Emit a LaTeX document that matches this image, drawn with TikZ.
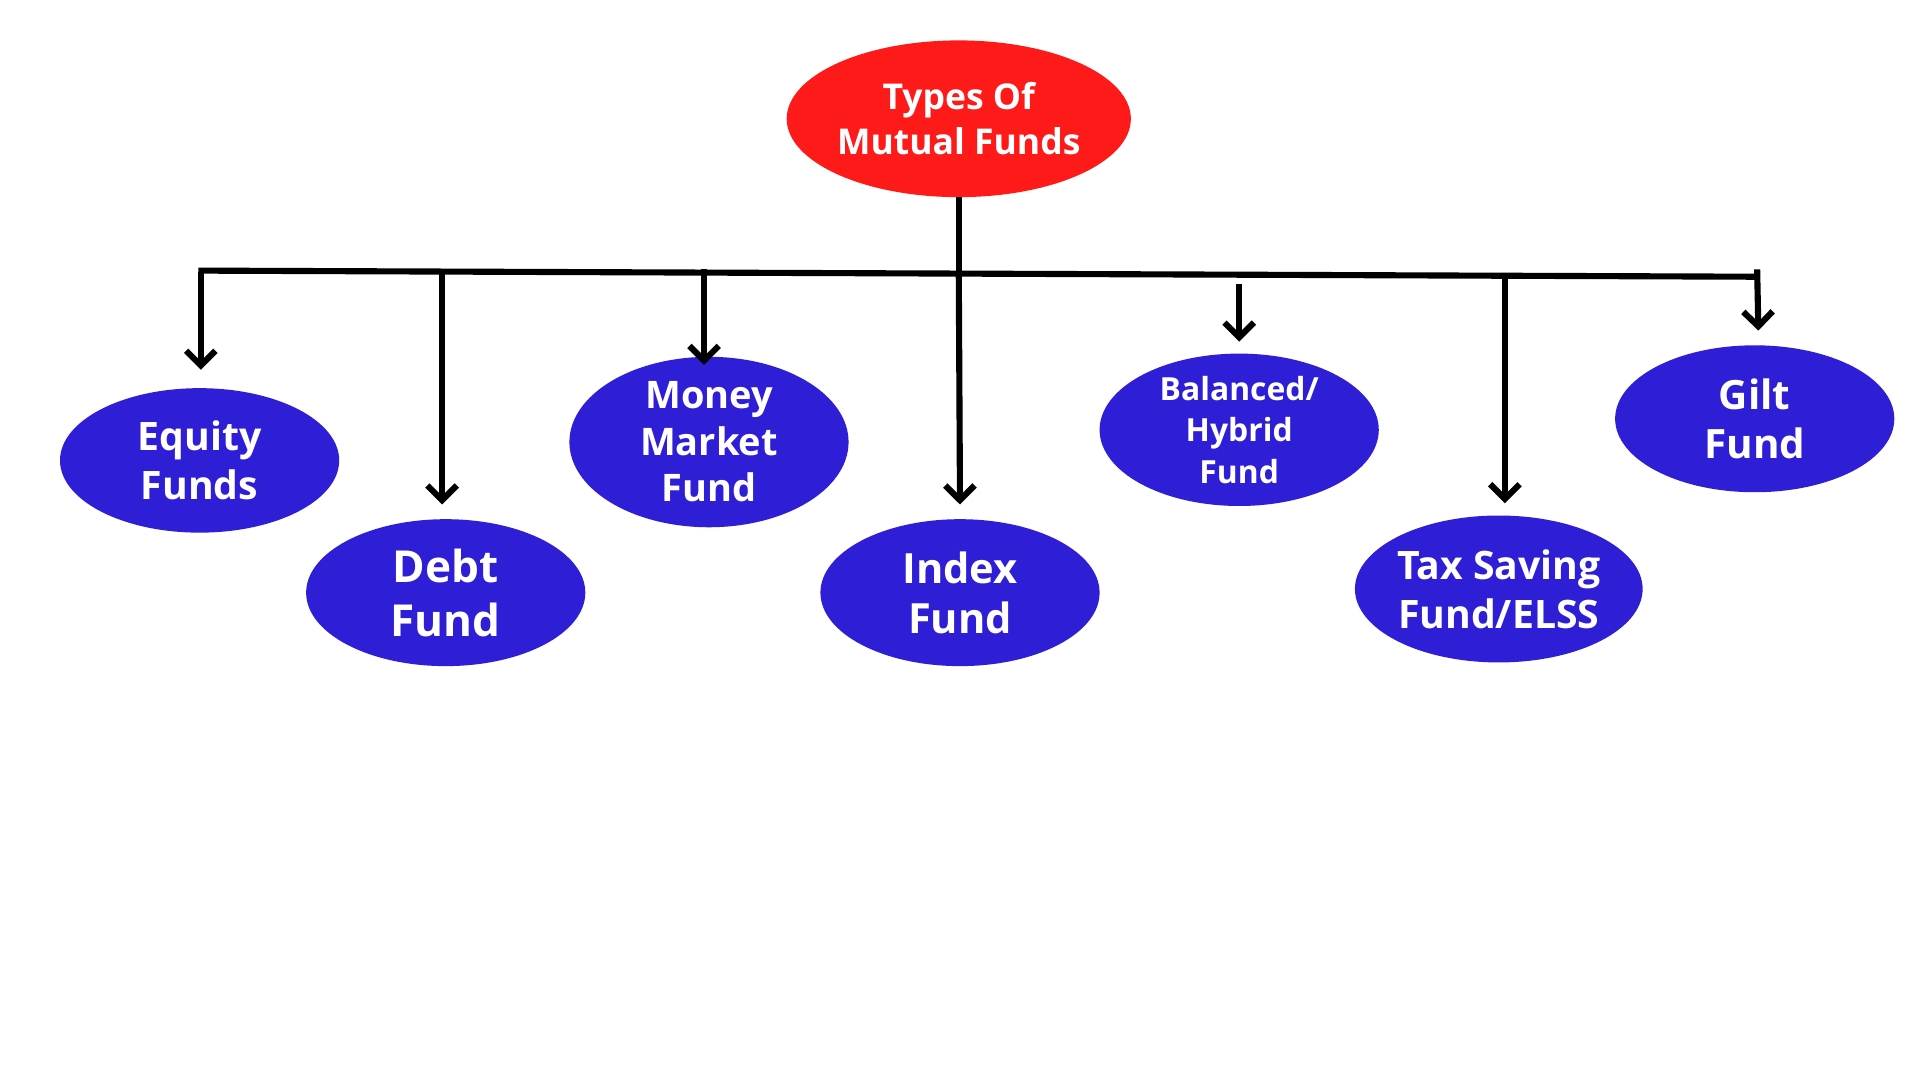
\documentclass[tikz,border=0pt]{standalone}
\usepackage{fontspec}
\setmainfont{Open Sans}
\usetikzlibrary{arrows.meta,shapes.geometric}
\definecolor{blue1}{HTML}{2E1FD6}
\definecolor{red1}{HTML}{FF1A1A}
\begin{document}
\begin{tikzpicture}[x=1pt,y=-1pt,
  fund/.style={ellipse,fill=blue1,minimum width=228pt,minimum height=120pt,inner sep=0pt,text=white,align=center,font=\fontsize{34}{40}\selectfont\bfseries},
  conn/.style={line width=5pt,black},
  arr/.style={conn,-{Straight Barb[length=12pt,width=24pt,line width=5pt]}}]
\fill[white] (0,0) rectangle (1568,882);
\useasboundingbox (0,0) rectangle (1568,882);
\node[fund,fill=red1,minimum height=128pt,font=\fontsize{29}{37}\selectfont\bfseries] (top) at (783,97) {Types Of\\Mutual Funds};
\node[fund,minimum height=118pt,font=\fontsize{32}{40}\selectfont\bfseries] (eq) at (163,376) {Equity\\Funds};
\node[fund,font=\fontsize{36}{44}\selectfont\bfseries] (debt) at (364,484) {Debt\\Fund};
\node[fund,font=\fontsize{31}{38}\selectfont\bfseries] (mm) at (579,361) {Money\\Market\\Fund};
\node[fund,font=\fontsize{34}{41}\selectfont\bfseries] (idx) at (784,484) {Index\\Fund};
\node[fund,font=\fontsize{26}{34}\selectfont\bfseries] (bal) at (1012,351) {Balanced/\\Hybrid\\Fund};
\node[fund,font=\fontsize{32}{40}\selectfont\bfseries] (tax) at (1224,481) {Tax Saving\\Fund/ELSS};
\node[fund,font=\fontsize{33}{40}\selectfont\bfseries] (gilt) at (1433,342) {Gilt\\Fund};
\coordinate (bl) at (162,221);
\coordinate (br) at (1435,226);
\coordinate (stem) at (783,224);
\draw[conn] (bl) -- (br);
\draw[conn] (top.south) -- (stem);
\draw[arr] (164,222) -- (164,302);
\draw[arr] (361,224) -- (361,412);
\draw[arr] (575,220) -- (575,298);
\draw[arr] (stem) -- (784,412);
\draw[arr] (1012,232) -- (1012,279);
\draw[arr] (1229,228) -- (1229,411);
\draw[arr] (1435,220) -- (1436,270);
\end{tikzpicture}
\end{document}
